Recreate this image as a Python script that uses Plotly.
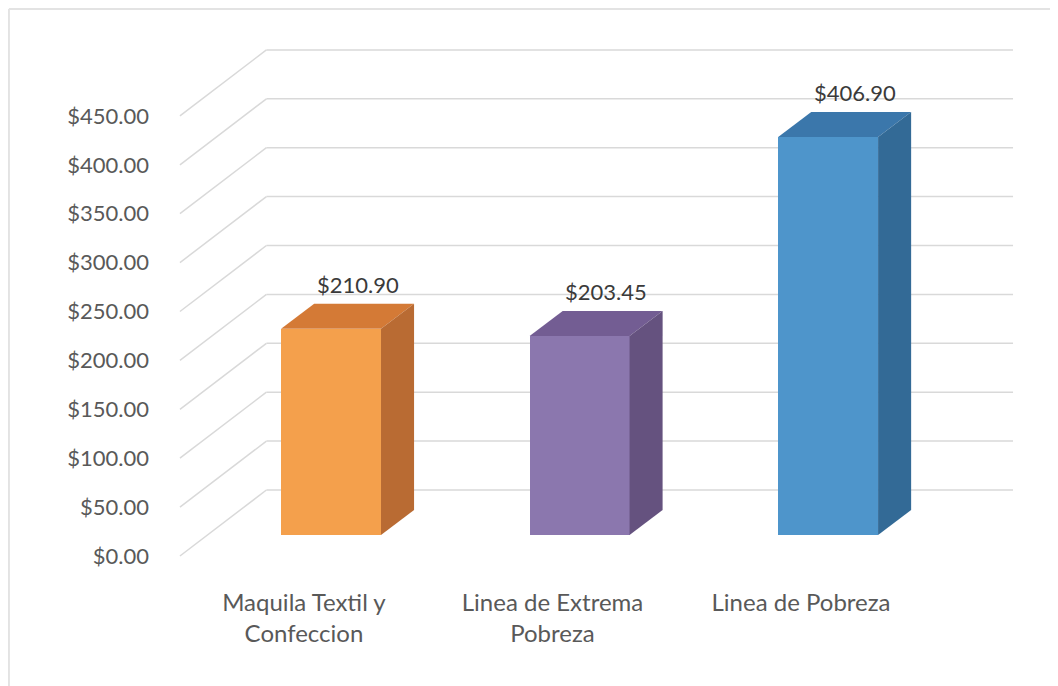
import plotly.graph_objects as go

# ---- data ----
categories = ["Maquila Textil y<br>Confeccion", "Linea de Extrema<br>Pobreza", "Linea de Pobreza"]
values = [210.90, 203.45, 406.90]
front_colors = ["#F4A04C", "#8B77AE", "#4E95CB"]
top_colors = ["#D47A36", "#735D93", "#3B77AB"]
side_colors = ["#B96B33", "#65527F", "#336A96"]
tick_values = [0, 50, 100, 150, 200, 250, 300, 350, 400, 450]

# ---- pseudo-3D geometry (axis units) ----
WALL_DX, WALL_DY = 0.348, 67.5       # depth of the back wall
BAR_X_OFF, BAR_W = 0.109, 0.402      # bar front face offset / width
BAR_BASE = 21.5                      # bar front face depth (vertical shift)
BAR_DX, BAR_DY = 0.133, 25.6         # bar depth
X_FRONT_LEFT, X_BACK_RIGHT = -0.499, 2.853

x_idx = list(range(len(categories)))

fig = go.Figure()
fig.add_trace(go.Bar(
    x=x_idx, y=values, base=BAR_BASE,
    width=BAR_W, offset=BAR_X_OFF - BAR_W / 2,
    marker=dict(color=front_colors, line=dict(width=0)),
    hoverinfo="skip", showlegend=False,
))

shapes = []
grid_col = "#D9D9D9"
for v in tick_values:
    yb = v + WALL_DY
    xb = X_FRONT_LEFT + WALL_DX
    shapes.append(dict(type="line", xref="x", yref="y", x0=X_FRONT_LEFT, y0=v, x1=xb, y1=yb,
                       line=dict(color=grid_col, width=1.5), layer="below"))
    shapes.append(dict(type="line", xref="x", yref="y", x0=xb, y0=yb, x1=X_BACK_RIGHT, y1=yb,
                       line=dict(color=grid_col, width=1.5), layer="below"))

annotations = []
for i, v in enumerate(values):
    xl = i + BAR_X_OFF - BAR_W / 2
    xr = xl + BAR_W
    yb = BAR_BASE
    yt = BAR_BASE + v
    # top face
    shapes.append(dict(type="path", xref="x", yref="y",
                       path=f"M {xl},{yt} L {xr},{yt} L {xr+BAR_DX},{yt+BAR_DY} L {xl+BAR_DX},{yt+BAR_DY} Z",
                       fillcolor=top_colors[i], line=dict(width=0), layer="above"))
    # side face
    shapes.append(dict(type="path", xref="x", yref="y",
                       path=f"M {xr},{yb} L {xr+BAR_DX},{yb+BAR_DY} L {xr+BAR_DX},{yt+BAR_DY} L {xr},{yt} Z",
                       fillcolor=side_colors[i], line=dict(width=0), layer="above"))
    annotations.append(dict(x=i + BAR_X_OFF + BAR_DX / 2, y=yt + BAR_DY, xref="x", yref="y",
                            text=f"${v:,.2f}", showarrow=False, yanchor="bottom", yshift=4, xshift=10,
                            font=dict(family="Lato", size=22, color="#3A3A3A")))

# chart border (top and left edges)
BX = -0.1895
shapes.append(dict(type="line", xref="paper", yref="paper", x0=BX, y0=1.0585, x1=1.06, y1=1.0585,
                   line=dict(color="#E3E3E3", width=2)))
shapes.append(dict(type="line", xref="paper", yref="paper", x0=BX, y0=1.0585, x1=BX, y1=-0.24,
                   line=dict(color="#E3E3E3", width=2)))

fig.update_layout(
    width=1058, height=686,
    margin=dict(l=162, r=46, t=32, b=124),
    paper_bgcolor="white", plot_bgcolor="white",
    shapes=shapes, annotations=annotations,
    xaxis=dict(range=[-0.539, 2.881], tickvals=x_idx, ticktext=categories,
               showgrid=False, zeroline=False, showline=False, ticks="",
               ticklabelstandoff=16,
               tickfont=dict(family="Lato", size=24, color="#595959")),
    yaxis=dict(range=[-14.3, 527.6], tickvals=tick_values, tickformat="$,.2f",
               showgrid=False, zeroline=False, showline=False, ticks="",
               ticklabelstandoff=20,
               tickfont=dict(family="Lato", size=22, color="#595959")),
    bargap=0,
)

fig.write_html("out.html")
